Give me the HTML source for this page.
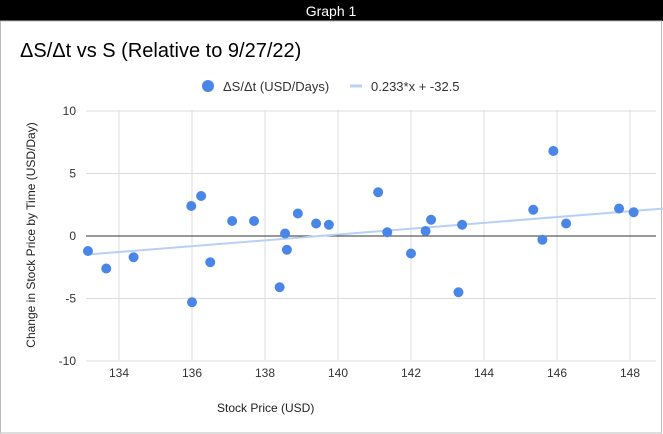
<!DOCTYPE html>
<html><head><meta charset="utf-8"><style>
body{margin:0;background:#fff;font-family:"Liberation Sans",Arial,sans-serif}
</style></head><body>
<svg width="663" height="434" xmlns="http://www.w3.org/2000/svg" style="display:block">
<rect x="0" y="0" width="663" height="434" fill="#fff"/>
<rect x="0" y="0" width="663" height="21" fill="#000"/>
<text x="331" y="16" text-anchor="middle" fill="#fff" font-size="14">Graph 1</text>
<rect x="0.5" y="21" width="661" height="412" fill="none" stroke="#bbb"/>
<text x="20" y="57" font-size="20" fill="#000">ΔS/Δt vs S (Relative to 9/27/22)</text>
<g>
<circle cx="208" cy="86" r="6" fill="#4a86e8"/>
<text x="223" y="91" font-size="13" fill="#333">ΔS/Δt (USD/Days)</text>
<rect x="350" y="84.5" width="12" height="3" fill="#b8d0f5"/>
<text x="371" y="91" font-size="13" fill="#333">0.233*x + -32.5</text>
</g>
<g id="grid"></g><g id="marks"></g>
<text x="217" y="412" font-size="12" fill="#222">Stock Price (USD)</text>
<text transform="translate(35,235) rotate(-90)" text-anchor="middle" font-size="12" fill="#222">Change in Stock Price by Time (USD/Day)</text>
</svg>
<script>
const xTicks=[134,136,138,140,142,144,146,148];
const yTicks=[10,5,0,-5,-10];
const xs=[133.15,133.65,134.4,135.98,136.0,136.25,136.5,137.1,137.7,138.4,138.55,138.6,138.9,139.4,139.75,141.1,141.35,142.0,142.4,142.55,143.3,143.4,145.35,145.6,145.9,146.25,147.7,148.1];
const ys=[-1.2,-2.6,-1.7,2.4,-5.3,3.2,-2.1,1.2,1.2,-4.1,0.2,-1.1,1.8,1.0,0.9,3.5,0.3,-1.4,0.4,1.3,-4.5,0.9,2.1,-0.3,6.8,1.0,2.2,1.9];
const trendSlope=0.233, trendIntercept=-32.5;
const xMin=133.1,xMax=148.9,L=86,R=649,T=110,B=360;
const X=v=>119+(v-134)*36.5;
const Y=v=>236-v*12.5;
const ns="http://www.w3.org/2000/svg";
function mk(t,a,p){const e=document.createElementNS(ns,t);for(const k in a)e.setAttribute(k,a[k]);p.appendChild(e);return e;}
const g=document.getElementById('grid'),m=document.getElementById('marks');
xTicks.forEach(v=>{
 const l=mk('line',{x1:X(v),x2:X(v),y1:T,y2:B,stroke:'#ddd'},g);
 
 
 const t=mk('text',{x:X(v),y:B+17,'text-anchor':'middle','font-size':12,fill:'#333'},g);t.textContent=v;
 
 
});
yTicks.forEach(v=>{
 const l=mk('line',{x1:L,x2:R+7,y1:Y(v),y2:Y(v),stroke:v===0?'#333':'#ddd'},g);
 
 
 const t=mk('text',{x:L-10,y:Y(v)+4,'text-anchor':'end','font-size':12,fill:'#333'},g);t.textContent=v;
 
 
});
const tl=mk('line',{x1:X(xMin),y1:Y(trendSlope*xMin+trendIntercept),x2:X(xMax),y2:Y(trendSlope*xMax+trendIntercept),stroke:'#b8d0f5','stroke-width':2},m);


xs.forEach((v,i)=>{
 const c=mk('circle',{cx:X(v),cy:Y(ys[i]),r:5,fill:'#4a86e8'},m);
 
 
});
</script>
</body></html>
